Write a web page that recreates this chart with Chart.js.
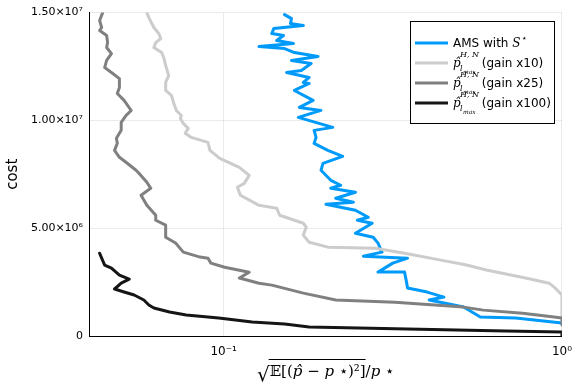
<!DOCTYPE html>
<html>
<head>
<meta charset="utf-8">
<script src="https://cdn.jsdelivr.net/npm/chart.js@4"></script>
<style>
  html, body { margin: 0; padding: 0; background: #fff; }
  #wrap { width: 581px; height: 388px; }
</style>
</head>
<body>
<div id="wrap"><canvas id="c"></canvas></div>
<script>
// series (x = relative error, y = cost)
var amsX = [0.1514, 0.1587, 0.1576, 0.1720, 0.1407, 0.1388, 0.1504, 0.1435, 0.1608, 0.1272, 0.1514, 0.1619, 0.1901, 0.1587, 0.1814, 0.1697, 0.1535, 0.1790, 0.1720, 0.1790, 0.1619, 0.1838, 0.1674, 0.1940, 0.1663, 0.2102, 0.1851, 0.1876, 0.1851, 0.2033, 0.2248, 0.1966, 0.1940, 0.2074, 0.2218, 0.2074, 0.2452, 0.2145, 0.2419, 0.2006, 0.2452, 0.2676, 0.2485, 0.2748, 0.2452, 0.2767, 0.2860, 0.2938, 0.2588, 0.3496, 0.3162, 0.2860, 0.3426, 0.3472, 0.3496, 0.3997, 0.4477, 0.4051, 0.5121, 0.5737, 0.7302, 1.0];
var amsY = [14.907e6, 14.722e6, 14.491e6, 14.398e6, 14.259e6, 14.028e6, 13.935e6, 13.704e6, 13.565e6, 13.426e6, 13.333e6, 13.148e6, 12.963e6, 12.778e6, 12.639e6, 12.315e6, 12.222e6, 11.991e6, 11.759e6, 11.713e6, 11.389e6, 10.926e6, 10.602e6, 10.463e6, 10.139e6, 9.676e6, 9.537e6, 9.213e6, 8.935e6, 8.611e6, 8.333e6, 8.009e6, 7.685e6, 7.222e6, 6.991e6, 6.852e6, 6.667e6, 6.389e6, 6.204e6, 6.111e6, 5.833e6, 5.509e6, 5.370e6, 5.231e6, 4.769e6, 4.583e6, 4.306e6, 3.889e6, 3.704e6, 3.611e6, 3.380e6, 2.963e6, 2.963e6, 2.500e6, 2.222e6, 2.037e6, 1.806e6, 1.667e6, 1.343e6, 0.880e6, 0.833e6, 0.602e6];

var g10X = [0.0593, 0.0601, 0.0622, 0.0643, 0.0652, 0.0630, 0.0622, 0.0656, 0.0665, 0.0674, 0.0688, 0.0674, 0.0674, 0.0701, 0.0711, 0.0725, 0.0750, 0.0745, 0.0760, 0.0786, 0.0770, 0.0802, 0.0899, 0.0911, 0.0974, 0.1113, 0.1190, 0.1151, 0.1098, 0.1121, 0.1272, 0.1435, 0.1464, 0.1720, 0.1754, 0.1720, 0.1790, 0.2033, 0.2803, 0.3426, 0.4389, 0.5224, 0.5974, 0.7805, 0.9167, 0.9479, 1.0, 1.0];
var g10Y = [15.0e6, 14.77e6, 14.31e6, 14.03e6, 13.80e6, 13.61e6, 13.38e6, 13.15e6, 12.92e6, 12.55e6, 12.08e6, 11.76e6, 11.39e6, 11.16e6, 10.83e6, 10.46e6, 10.23e6, 10.09e6, 9.86e6, 9.63e6, 9.40e6, 9.21e6, 8.98e6, 8.61e6, 8.24e6, 7.82e6, 7.45e6, 7.08e6, 6.90e6, 6.53e6, 6.06e6, 5.93e6, 5.60e6, 5.23e6, 5.05e6, 4.68e6, 4.35e6, 4.12e6, 4.07e6, 3.84e6, 3.52e6, 3.29e6, 3.06e6, 2.69e6, 2.45e6, 2.27e6, 1.90e6, 0.74e6];

var g25X = [0.0439, 0.0430, 0.0436, 0.0430, 0.0451, 0.0454, 0.0451, 0.0466, 0.0451, 0.0445, 0.0466, 0.0492, 0.0492, 0.0485, 0.0508, 0.0533, 0.0515, 0.0498, 0.0498, 0.0482, 0.0485, 0.0476, 0.0492, 0.0519, 0.0551, 0.0562, 0.0593, 0.0609, 0.0570, 0.0593, 0.0630, 0.0630, 0.0674, 0.0674, 0.0721, 0.0760, 0.0852, 0.0899, 0.0917, 0.1007, 0.1190, 0.1113, 0.1272, 0.1388, 0.1720, 0.2145, 0.3206, 0.5121, 0.5853, 0.7651, 0.9479, 1.0, 1.0];
var g25Y = [15.0e6, 14.63e6, 14.31e6, 14.17e6, 13.94e6, 13.61e6, 13.38e6, 13.10e6, 12.78e6, 12.45e6, 12.22e6, 11.94e6, 11.53e6, 11.25e6, 10.93e6, 10.46e6, 10.23e6, 9.91e6, 9.54e6, 9.17e6, 8.94e6, 8.61e6, 8.29e6, 8.01e6, 7.69e6, 7.55e6, 7.13e6, 6.85e6, 6.53e6, 6.06e6, 5.60e6, 5.37e6, 5.14e6, 4.58e6, 4.31e6, 3.89e6, 3.66e6, 3.61e6, 3.38e6, 3.19e6, 2.96e6, 2.69e6, 2.45e6, 2.36e6, 1.99e6, 1.67e6, 1.57e6, 1.34e6, 1.20e6, 1.06e6, 0.88e6, 0.83e6, 0.51e6];

var g100X = [0.0430, 0.0436, 0.0445, 0.0466, 0.0492, 0.0526, 0.0498, 0.0476, 0.0508, 0.0544, 0.0581, 0.0601, 0.0622, 0.0692, 0.0775, 0.0967, 0.1214, 0.1514, 0.1790, 0.3496, 0.6828, 1.0, 1.0];
var g100Y = [3.84e6, 3.61e6, 3.29e6, 3.15e6, 2.82e6, 2.64e6, 2.45e6, 2.18e6, 2.04e6, 1.90e6, 1.67e6, 1.44e6, 1.30e6, 1.11e6, 0.97e6, 0.83e6, 0.65e6, 0.56e6, 0.42e6, 0.32e6, 0.23e6, 0.19e6, 0.0];

var xTicks = [0.1, 1];
var yTicks = [0, 5e6, 1e7, 1.5e7];
var yTickLabels = ['0', '5.00\u00d710\u2076', '1.00\u00d710\u2077', '1.50\u00d710\u2077'];
var xTickLabels = ['10\u207b\u00b9', '10\u2070'];

var colAms = '#009afa', col10 = '#cccccc', col25 = '#808080', col100 = '#151515';

function pts(xs, ys) {
    return xs.map(function(x, i) { return {x: x, y: ys[i]}; });
}

// legend drawn by hand, because of the sub/superscripts
var legendPlugin = {
    id: 'mathLegend',
    afterDraw: function(chart) {
        var ctx = chart.ctx;
        ctx.save();
        ctx.fillStyle = '#fff';
        ctx.strokeStyle = '#000';
        ctx.lineWidth = 1;
        ctx.fillRect(410.5, 21.5, 144, 102);
        ctx.strokeRect(410.5, 21.5, 144, 102);
        var rows = [43, 63, 83, 103];
        var cols = [colAms, col10, col25, col100];
        var gains = [' (gain x10)', ' (gain x25)', ' (gain x100)'];
        ctx.lineWidth = 3;
        rows.forEach(function(y, i) {
            ctx.strokeStyle = cols[i];
            ctx.beginPath();
            ctx.moveTo(415, y);
            ctx.lineTo(448, y);
            ctx.stroke();
        });
        ctx.fillStyle = '#000';
        ctx.textBaseline = 'middle';
        ctx.textAlign = 'left';
        ctx.font = '12px "DejaVu Sans"';
        ctx.fillText('AMS with ', 453, 44);
        var w = ctx.measureText('AMS with ').width;
        ctx.font = 'italic 12px "DejaVu Serif"';
        ctx.fillText('S', 453 + w, 44);
        var w2 = ctx.measureText('S').width;
        ctx.font = '9px "DejaVu Sans"';
        ctx.fillText('\u22c6', 453 + w + w2 + 1, 39);
        for (var i = 0; i < 3; i++) {
            var y = rows[i + 1] + 1;
            ctx.font = 'italic 12px "DejaVu Serif"';
            ctx.fillText('p\u0302', 453, y);
            ctx.font = 'italic 8px "DejaVu Serif"';
            ctx.fillText('H, N', 460, y - 9);
            ctx.fillText('l', 460, y + 5);
            ctx.font = 'italic 6px "DejaVu Serif"';
            ctx.fillText('max', 463, y + 8);
            ctx.font = '12px "DejaVu Sans"';
            ctx.fillText(gains[i], 478, y);
        }
        ctx.restore();
    }
};

// x axis title with a radical sign
var xTitlePlugin = {
    id: 'xTitle',
    afterDraw: function(chart) {
        var ctx = chart.ctx;
        var a = chart.chartArea;
        var cx = (a.left + a.right) / 2;
        var y = 376;
        var up = '15px "DejaVu Serif"', it = 'italic 15px "DejaVu Serif"';
        var inner = [['\ud835\udd3c[(', up], ['p\u0302', it], [' \u2212 ', up], ['p', it], [' \u22c6)\u00b2]', up]];
        var tail = [['/', up], ['p', it], [' \u22c6', up]];
        function width(segs) {
            var w = 0;
            segs.forEach(function(s) { ctx.font = s[1]; w += ctx.measureText(s[0]).width; });
            return w;
        }
        function draw(segs, x) {
            segs.forEach(function(s) { ctx.font = s[1]; ctx.fillText(s[0], x, y); x += ctx.measureText(s[0]).width; });
            return x;
        }
        ctx.save();
        ctx.fillStyle = '#000';
        ctx.textBaseline = 'alphabetic';
        ctx.textAlign = 'left';
        var wi = width(inner), wt = width(tail);
        ctx.font = '20px "DejaVu Serif"';
        var wr = ctx.measureText('\u221a').width;
        var x0 = cx - (wr + wi + wt) / 2;
        ctx.fillText('\u221a', x0, y + 5);
        ctx.strokeStyle = '#000';
        ctx.lineWidth = 1;
        ctx.beginPath();
        ctx.moveTo(x0 + wr - 1, 359.5);
        ctx.lineTo(x0 + wr + wi, 359.5);
        ctx.stroke();
        var x1 = draw(inner, x0 + wr);
        draw(tail, x1);
        ctx.restore();
    }
};

var ctx = document.getElementById('c');
var myChart = new Chart(ctx, {
    type: 'line',
    data: {
        datasets: [{
            label: 'AMS with S*',
            data: pts(amsX, amsY),
            borderColor: colAms,
            borderWidth: 3,
            order: 4
        }, {
            label: 'gain x10',
            data: pts(g10X, g10Y),
            borderColor: col10,
            borderWidth: 3,
            order: 3
        }, {
            label: 'gain x25',
            data: pts(g25X, g25Y),
            borderColor: col25,
            borderWidth: 3,
            order: 2
        }, {
            label: 'gain x100',
            data: pts(g100X, g100Y),
            borderColor: col100,
            borderWidth: 3,
            order: 1
        }]
    },
    options: {
        responsive: true,
        maintainAspectRatio: false,
        animation: false,
        elements: {
            point: { radius: 0 },
            line: { tension: 0, borderJoinStyle: 'round', borderCapStyle: 'round' }
        },
        layout: { padding: { left: 4, right: 11, top: 12, bottom: 0 } },
        plugins: {
            legend: { display: false },
            tooltip: { enabled: false }
        },
        scales: {
            x: {
                type: 'logarithmic',
                min: 0.04,
                max: 1,
                afterBuildTicks: function(scale) {
                    scale.ticks = xTicks.map(function(v) { return {value: v}; });
                },
                afterFit: function(scale) { scale.height = 52; },
                border: { display: true, color: '#000', width: 1 },
                grid: { color: 'rgba(0,0,0,0.08)', drawTicks: false },
                ticks: {
                    color: '#000',
                    padding: 9,
                    maxRotation: 0,
                    autoSkip: false,
                    font: { family: 'DejaVu Sans', size: 12 },
                    callback: function(v) {
                        var i = xTicks.indexOf(v);
                        return i >= 0 ? xTickLabels[i] : '';
                    }
                }
            },
            y: {
                min: 0,
                max: 1.5e7,
                afterBuildTicks: function(scale) {
                    scale.ticks = yTicks.map(function(v) { return {value: v}; });
                },
                afterFit: function(scale) { scale.width = 85; },
                border: { display: true, color: '#000', width: 1 },
                grid: { color: 'rgba(0,0,0,0.08)', drawTicks: false },
                title: {
                    display: true,
                    text: 'cost',
                    color: '#000',
                    font: { family: 'DejaVu Sans', size: 15 },
                    padding: { top: 0, bottom: 0 }
                },
                ticks: {
                    color: '#000',
                    padding: 6,
                    font: { family: 'DejaVu Sans', size: 11 },
                    callback: function(v) {
                        var i = yTicks.indexOf(v);
                        return i >= 0 ? yTickLabels[i] : '';
                    }
                }
            }
        }
    },
    plugins: [legendPlugin, xTitlePlugin]
});
</script>
</body>
</html>
